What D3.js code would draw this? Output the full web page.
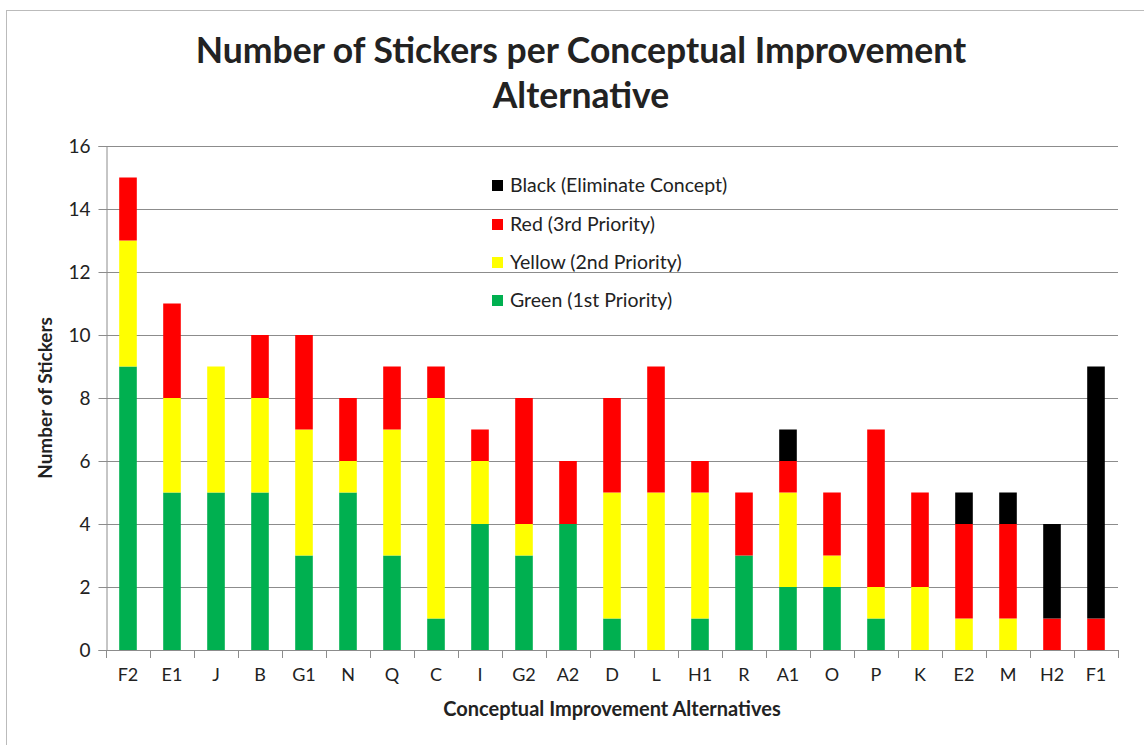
<!DOCTYPE html>
<html>
<head>
<meta charset="utf-8">
<script src="https://cdn.jsdelivr.net/npm/d3@7"></script>
<style>
  body { margin: 0; background: #fff; }
  text { font-family: Lato, "Open Sans", sans-serif; fill: #222; }
</style>
</head>
<body>
<svg id="chart" width="1144" height="745"></svg>
<script>
// data
var categories = ["F2","E1","J","B","G1","N","Q","C","I","G2","A2","D","L","H1","R","A1","O","P","K","E2","M","H2","F1"];
var green  = [9,5,5,5,3,5,3,1,4,3,4,1,0,1,3,2,2,1,0,0,0,0,0];
var yellow = [4,3,4,3,4,1,4,7,2,1,0,4,5,4,0,3,1,1,2,1,1,0,0];
var red    = [2,3,0,2,3,2,2,1,1,4,2,3,4,1,2,1,2,5,3,3,3,1,1];
var black  = [0,0,0,0,0,0,0,0,0,0,0,0,0,0,0,1,0,0,0,1,1,3,8];
var seriesNames = ["Green (1st Priority)","Yellow (2nd Priority)","Red (3rd Priority)","Black (Eliminate Concept)"];
var seriesColors = ["#00b050","#ffff00","#ff0000","#000000"];
var yTicks = [0,2,4,6,8,10,12,14,16];

var svg = d3.select("#chart");

// outer chart frame
svg.append("rect")
    .attr("x", 6.5).attr("y", 10.5)
    .attr("width", 1160).attr("height", 760)
    .attr("fill", "none").attr("stroke", "#bbb");

var plotLeft = 106, plotRight = 1118, plotTop = 146, plotBottom = 650;

var x = d3.scaleBand()
    .domain(categories)
    .range([plotLeft, plotRight])
    .paddingInner(0.6)
    .paddingOuter(0.3);

var y = d3.scaleLinear()
    .domain([0, 16])
    .range([plotBottom, plotTop]);

// gridlines
svg.append("g")
    .selectAll("line")
    .data(yTicks.slice(1))
  .enter().append("line")
    .attr("x1", plotLeft).attr("x2", plotRight)
    .attr("y1", function(d) { return Math.round(y(d)) + 0.5; })
    .attr("y2", function(d) { return Math.round(y(d)) + 0.5; })
    .attr("stroke", "#8c8c8c");

// stacked bars
var rows = categories.map(function(c, i) {
  return {cat: c, g: green[i], y: yellow[i], r: red[i], b: black[i]};
});
var stack = d3.stack().keys(["g","y","r","b"])(rows);

svg.append("g")
    .selectAll("g")
    .data(stack)
  .enter().append("g")
    .attr("fill", function(d, i) { return seriesColors[i]; })
  .selectAll("rect")
    .data(function(d) { return d.filter(function(p) { return p[1] > p[0]; }); })
  .enter().append("rect")
    .attr("x", function(d) { return x(d.data.cat); })
    .attr("width", x.bandwidth())
    .attr("y", function(d) { return y(d[1]); })
    .attr("height", function(d) { return y(d[0]) - y(d[1]); });

// y axis
var yAxis = svg.append("g")
    .attr("transform", "translate(" + (plotLeft + 0.5) + ",0)")
    .call(d3.axisLeft(y).tickValues(yTicks).tickSize(8).tickPadding(8));
yAxis.selectAll("text").style("font-size", "19px").attr("fill", "#222");
yAxis.selectAll("line, path").attr("stroke", "#8c8c8c");

// x axis
var xAxis = svg.append("g")
    .attr("transform", "translate(0," + (plotBottom + 0.5) + ")")
    .call(d3.axisBottom(x).tickSize(0).tickPadding(18));
xAxis.select("path").attr("stroke", "#8c8c8c").attr("d", "M" + plotLeft + ",0H" + plotRight);
xAxis.selectAll("text").style("font-size", "18px").attr("fill", "#222");

// boundary ticks between categories
svg.append("g")
    .selectAll("line")
    .data(d3.range(categories.length + 1))
  .enter().append("line")
    .attr("x1", function(i) { return Math.round(plotLeft + i * (plotRight - plotLeft) / categories.length) + 0.5; })
    .attr("x2", function(i) { return Math.round(plotLeft + i * (plotRight - plotLeft) / categories.length) + 0.5; })
    .attr("y1", plotBottom).attr("y2", plotBottom + 8)
    .attr("stroke", "#8c8c8c");

// title
var title = svg.append("text")
    .attr("text-anchor", "middle")
    .style("font-size", "35.5px").style("font-weight", "bold");
title.append("tspan").attr("x", 581).attr("y", 63).text("Number of Stickers per Conceptual Improvement");
title.append("tspan").attr("x", 581).attr("y", 108).text("Alternative");

// axis titles
svg.append("text")
    .attr("x", 612).attr("y", 716)
    .attr("text-anchor", "middle")
    .style("font-size", "20px").style("font-weight", "bold")
    .text("Conceptual Improvement Alternatives");

svg.append("text")
    .attr("transform", "translate(52,398) rotate(-90)")
    .attr("text-anchor", "middle")
    .style("font-size", "19px").style("font-weight", "bold")
    .text("Number of Stickers");

// legend (black on top)
var legendY = [300, 262, 224, 185];
var legend = svg.append("g")
    .selectAll("g")
    .data(seriesNames)
  .enter().append("g")
    .attr("transform", function(d, i) { return "translate(492," + legendY[i] + ")"; });
legend.append("rect")
    .attr("x", 0).attr("y", -5).attr("width", 11).attr("height", 11)
    .attr("fill", function(d, i) { return seriesColors[i]; });
legend.append("text")
    .attr("x", 18).attr("y", 7)
    .style("font-size", "19.5px")
    .text(function(d) { return d; });
</script>
</body>
</html>
